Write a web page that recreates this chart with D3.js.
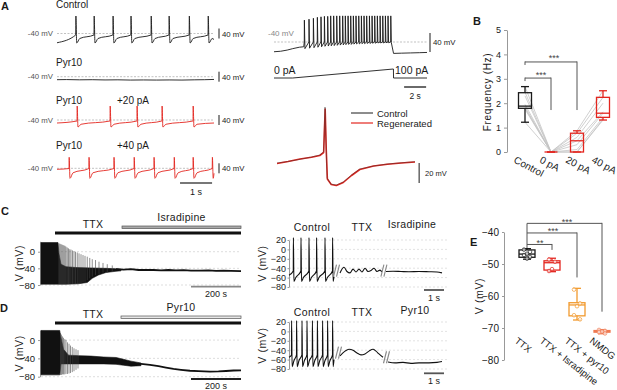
<!DOCTYPE html>
<html>
<head>
<meta charset="utf-8">
<script src="https://cdn.jsdelivr.net/npm/d3@7"></script>
<style>
  body { margin: 0; background: #fff; }
  svg { font-family: "Liberation Sans", Arial, sans-serif; }
</style>
</head>
<body>
<svg id="fig" width="617" height="390"></svg>
<script>
// ---------- data ----------
// A, left: spike times (s) and levels (mV): [start, threshold, peak, trough, recovery, end]
const ctrlSpikes = [0.59, 1.16, 1.75, 2.31, 2.94, 3.5, 4.13, 4.72];
const ctrlLevels = [-77, -46, 30, -78, -60, -64];
const pyrTrace = [[0, -52], [0.3, -51.5], [0.7, -52.5], [1.1, -52], [1.5, -53], [1.9, -52.5], [2.3, -53.5],
  [2.7, -53], [3.1, -53.5], [3.5, -53], [3.9, -53.5], [4.3, -52.5], [4.6, -52], [4.9, -51]];
const pa20Spikes = [0.63, 1.66, 2.5, 3.28, 4.25];
const pa20Levels = [-52, -44, 16, -68, -57, -52];
const pa40Spikes = [0.38, 1.0, 1.78, 2.41, 3.03, 3.66, 4.25, 4.85];
const pa40Levels = [-44, -41, 4, -80, -58, -60];

// A, right: current ramp
const rampPre = [[0, -60.5], [0.6, -59.5], [1.2, -57], [1.7, -54], [2.3, -51], [2.7, -50]];
const rampSpikes = [2.76, 3.18, 3.58, 3.94, 4.27, 4.58, 4.88, 5.15, 5.42, 5.7, 5.97, 6.24, 6.48, 6.73, 6.97,
  7.21, 7.45, 7.7, 7.94, 8.18, 8.42, 8.67, 8.91, 9.15, 9.39, 9.64, 9.88, 10.12, 10.36, 10.61];
const rampTroughs = [-54, -53, -52, -51, -50, -49, -48.5, -48, -47.5, -47, -46.5, -46, -45.5, -45, -45,
  -44.5, -44, -44, -43.5, -43.5, -43, -43, -42.5, -42.5, -42, -42, -42, -41.5, -41.5, -41.5];
const rampPeaks = [6, 8, 10, 12, 13, 14, 14, 15, 15, 15, 15, 15, 15, 15, 15, 15, 15, 15, 15, 15, 15, 15,
  15, 15, 15, 15, 15, 15, 15, 15];
const rampPost = [[10.86, -64], [11.6, -63.5], [12.4, -63], [13.2, -62.5], [13.9, -62]];
const rampCurrent = [[0, 0], [1.7, 0], [10.85, 100], [10.86, 0], [13.9, 0]];

// A, right: single action potential (ms, mV)
const apControl = [[0, -55], [8, -53.5], [16.7, -51.3], [25, -49], [31, -47], [33.8, -44], [34.8, 1],
  [35.6, -40], [36.3, -70], [39, -76], [43, -77], [48, -74], [54, -67], [60, -61], [70, -58], [80, -56],
  [90, -54.8], [100, -53.7]];
const apRegen = [[0, -55.5], [8, -53.5], [16.7, -51], [25, -49.3], [31, -47.5], [33.8, -44.5], [34.9, -1],
  [35.7, -42], [36.5, -71], [39.3, -76.5], [43, -77.5], [48, -74.5], [54, -67.5], [60, -61.5], [70, -58],
  [80, -56.3], [90, -55], [100, -54]];

// B: firing frequency (Hz)
const bCats = ['Control', '0 pA', '20 pA', '40 pA'];
const bBox = [[1.22, 1.79, 1.88, 2.43, 2.68], [0, 0, 0, 0, 0], [0, 0, 0.46, 0.77, 0.87], [1.31, 1.42, 1.59, 2.24, 2.51]];
const bCtrl = [2.68, 2.45, 2.3, 1.95, 1.85, 1.8, 1.75, 1.22];
const b0pA = [0, 0, 0, 0, 0, 0, 0, 0];
const b20pA = [0.87, 0.77, 0.6, 0.46, 0.3, 0.1, 0, 0];
const b40pA = [2.51, 2.24, 2.0, 1.65, 1.59, 1.42, 1.31, 1.35];
const bSig = [['Control', '0 pA', '***'], ['Control', '20 pA', '***']];

// C / D, left: long recordings (s, mV)
const cDrugs = [['TTX', 56, 800], ['Isradipine', 324, 800]];
const cUpper = [[0, 22], [68, 22], [72, -5], [80, -30], [100, -36], [140, -38], [200, -39], [260, -40],
  [300, -41], [320, -42]];
const cLower = [[0, -78], [100, -78], [150, -77], [185, -74], [205, -64], [230, -56], [260, -50], [300, -47],
  [320, -46]];
const cSpikeT = [72, 76, 80, 84, 88, 92, 96, 100, 105, 110, 115, 120, 126, 132, 138, 145, 152, 160, 168, 176,
  185, 195, 205, 218, 232, 248, 265, 285];
const cSpikeTop = [20, 19, 18, 17, 16, 15, 14, 12, 10, 8, 6, 5, 3, 1, 0, -2, -4, -6, -8, -10, -12, -15, -18,
  -20, -24, -27, -30, -33];
const cSpikeLow = [-78, -78, -78, -78, -78, -78, -78, -78, -78, -78, -78, -78, -78, -78, -78, -78, -77, -76,
  -74, -72, -68, -64, -60, -56, -53, -50, -50, -48];
const cTail = [[300, -42], [330, -43], [360, -42], [390, -44], [420, -43.5], [450, -44], [480, -45], [510, -44],
  [540, -45], [570, -44.5], [600, -45.5], [636, -45.5], [670, -45], [700, -46], [730, -45.5], [760, -46],
  [800, -46.5]];

const dDrugs = [['TTX', 56, 800], ['Pyr10', 320, 800]];
const dUpper = [[0, 21], [75, 21], [78, 10], [90, -20], [110, -33], [150, -34], [200, -35], [250, -37],
  [300, -38], [330, -42], [360, -46], [400, -50]];
const dLower = [[0, -76], [75, -76], [80, -52], [140, -52], [200, -52], [250, -52], [300, -53], [330, -55],
  [360, -57], [400, -56]];
const dSpikeT = [78, 82, 86, 90, 95, 100, 106, 112, 118, 125, 132, 140, 148];
const dSpikeTop = [15, 12, 8, 5, 2, 0, -5, -8, -12, -15, -18, -20, -22];
const dSpikeLow = [-76, -76, -75, -75, -75, -74, -74, -73, -72, -70, -68, -65, -62];
const dTail = [[400, -52], [436, -54], [470, -57], [500, -60], [530, -63], [560, -65], [596, -67], [630, -68],
  [676, -69], [710, -68.5], [740, -67.5], [770, -66.5], [800, -66]];

// C / D, right: excerpts (s, mV)
const cCtrlSpikes = [0.22, 0.6, 1.0, 1.38, 1.8, 2.18];
const cCtrlLevels = [-55, -46, 25, -68, -60, -58];
const cTTX = [[2.55, -50], [2.75, -38], [2.9, -47], [3.05, -50], [3.2, -42], [3.35, -48], [3.5, -42],
  [3.65, -48], [3.8, -40], [3.95, -47], [4.1, -45], [4.25, -40], [4.4, -47], [4.55, -44], [4.65, -48]];
const cIsr = [[4.85, -47], [5.2, -46.5], [5.6, -47], [6.0, -47.5], [6.5, -47], [7.0, -47.5], [7.4, -48],
  [7.65, -50]];
const dCtrlSpikes = [0.13, 0.38, 0.65, 0.9, 1.17, 1.42, 1.68, 1.93, 2.18];
const dCtrlLevels = [-55, -50, 23, -75, -62, -60];
const dTTX = [[2.55, -52], [2.8, -42], [3.0, -38], [3.2, -40], [3.4, -46], [3.6, -50], [3.8, -48],
  [4.0, -42], [4.2, -38], [4.35, -42], [4.5, -48], [4.7, -55]];
const dPyr = [[4.95, -65], [5.3, -67], [5.7, -66], [6.1, -68], [6.5, -67], [7.0, -67], [7.4, -66], [7.65, -64]];

// E: membrane potential (mV)
const eCats = ['TTX', 'TTX + Isradipine', 'TTX + pyr10', 'NMDG'];
const eBox = [[-48.5, -47.9, -46.9, -45.6, -45.2], [-52.4, -51.9, -49.6, -49, -48.2],
  [-67.5, -66.2, -62.8, -62.1, -57.6], [-71.8, -71.3, -71.1, -70.8, -70.5]];
const ePts = [[-45.5, -46.2, -46.8, -47.2, -47.8, -48.3], [-48.6, -49.3, -51.6, -52.2],
  [-58, -62.3, -63.2, -66, -67.3], [-70.6, -70.9, -71.1, -71.3, -71.7]];
const eSig = [['TTX', 'TTX + Isradipine', '**'], ['TTX', 'TTX + pyr10', '***'], ['TTX', 'NMDG', '***']];

// ---------- drawing ----------
const svg = d3.select('#fig');
const ink = '#1a1a1a', red = '#e3261f', orange = '#f29a2e', salmon = '#ef7a52';

function text(x, y, s, size, o = {}) {
  const t = svg.append('text').attr('x', x).attr('y', y).attr('font-size', size)
    .attr('fill', o.fill || ink).text(s);
  if (o.anchor) t.attr('text-anchor', o.anchor);
  if (o.bold) t.attr('font-weight', 'bold');
  if (o.ls) t.attr('letter-spacing', o.ls);
  if (o.rot) t.attr('transform', `rotate(${o.rot},${x},${y})`);
  return t;
}

function seg(x1, y1, x2, y2, stroke, w, dash) {
  const l = svg.append('line').attr('x1', x1).attr('y1', y1).attr('x2', x2).attr('y2', y2)
    .attr('stroke', stroke).attr('stroke-width', w);
  if (dash) l.attr('stroke-dasharray', dash);
  return l;
}

function trace(pts, xs, ys, color, w, curve) {
  return svg.append('path')
    .attr('d', d3.line().x(d => xs(d[0])).y(d => ys(d[1])).curve(curve || d3.curveMonotoneX)(pts))
    .attr('fill', 'none').attr('stroke', color).attr('stroke-width', w)
    .attr('stroke-linejoin', 'round');
}

function spikeTrain(times, lv, tEnd) {
  const pts = [[0, lv[0]]];
  times.forEach(t => {
    pts.push([t - 0.006, lv[1]], [t, lv[2]], [t + 0.025, lv[3]], [t + 0.12, lv[4]]);
  });
  pts.push([tEnd, lv[5]]);
  return pts.filter(p => p[0] <= tEnd);
}

function breakMark(x, y) {
  seg(x - 3.5, y + 6, x - 0.5, y - 6, '#888', 1.1);
  seg(x - 0.5, y + 6, x + 2.5, y - 6, '#888', 1.1);
}

// panel letters
text(1, 10, 'A', 11, {bold: true});
text(473, 25, 'B', 11, {bold: true});
text(1, 215, 'C', 11, {bold: true});
text(0, 312, 'D', 11, {bold: true});
text(470, 246, 'E', 11, {bold: true});

// ----- A left -----
const xA = d3.scaleLinear().domain([0, 4.9]).range([57, 214]);
const rowsA = [
  {dash: 33.5, title: 'Control', ty: 7.5, color: ink, pts: spikeTrain(ctrlSpikes, ctrlLevels, 4.9)},
  {dash: 76.7, title: 'Pyr10', ty: 65.5, color: ink, pts: pyrTrace},
  {dash: 120, title: 'Pyr10', extra: '+20 pA', ty: 104, color: red, pts: spikeTrain(pa20Spikes, pa20Levels, 4.9)},
  {dash: 168.3, title: 'Pyr10', extra: '+40 pA', ty: 149, color: red, pts: spikeTrain(pa40Spikes, pa40Levels, 4.9)}
];
rowsA.forEach(r => {
  const yA = d3.scaleLinear().domain([-40, 0]).range([r.dash, r.dash - 10]);
  seg(57, r.dash, 214, r.dash, '#999', 0.6, '2,1.5');
  text(53, r.dash + 2.5, '-40 mV', 7.8, {fill: '#555', anchor: 'end'});
  trace(r.pts, xA, yA, r.color, 0.9);
  seg(219, yA(-20), 219, yA(-60), ink, 1);
  text(222, r.dash + 3, '40 mV', 7.8);
  text(56, r.ty, r.title, 10);
  if (r.extra) text(117, r.ty, r.extra, 10);
});
seg(xA(3.84), 183, xA(4.84), 183, '#777', 2);
text(xA(4.34), 195, '1 s', 9, {anchor: 'middle'});

// ----- A right: ramp -----
const xR = d3.scaleLinear().domain([0, 13.9]).range([274, 427]);
const yR = d3.scaleLinear().domain([-40, 0]).range([42, 23]);
const iR = d3.scaleLinear().domain([0, 100]).range([78, 69]);
seg(274, yR(-40), 427, yR(-40), '#999', 0.6, '2,1.5');
text(268, 36, '-40 mV', 8, {fill: '#888'});
const rampPts = rampPre.slice();
rampSpikes.forEach((t, i) => {
  rampPts.push([t - 0.01, -40], [t, rampPeaks[i]], [t + 0.05, rampTroughs[i]]);
});
rampPts.push(...rampPost);
trace(rampPts, xR, yR, ink, 0.9, d3.curveLinear);
seg(430, yR(-40) - 9, 430, yR(-40) + 10, ink, 1);
text(433, 45, '40 mV', 7.8);
trace(rampCurrent, xR, iR, ink, 0.9, d3.curveLinear);
text(274, 74, '0 pA', 10.5);
text(395, 74, '100 pA', 10.5);
seg(xR(11.82), 87, xR(13.82), 87, ink, 1.3);
text(xR(12.82), 99, '2 s', 8.5, {anchor: 'middle'});

// ----- A right: action potential overlay -----
const xO = d3.scaleLinear().domain([0, 100]).range([277, 415]);
const yO = d3.scaleLinear().domain([-55, -35]).range([163, 143]);
trace(apRegen, xO, yO, red, 1.6, d3.curveLinear);
trace(apControl, xO, yO, '#333', 0.6, d3.curveLinear).attr('stroke-opacity', 0.75);
seg(xO(103), yO(-55), xO(103), yO(-75), ink, 1);
text(425, 176, '20 mV', 7.5);
seg(351, 113, 373, 113, ink, 1);
seg(351, 123, 373, 123, red, 1.2);
text(377, 116.5, 'Control', 9.5);
text(377, 126.5, 'Regenerated', 9.5);

// ----- B -----
const xB = d3.scalePoint().domain(bCats).range([525, 603]);
const yB = d3.scaleLinear().domain([0, 5]).range([152, 30]);
const gB = svg.append('g').attr('transform', 'translate(507,0)')
  .call(d3.axisLeft(yB).ticks(5).tickSize(3).tickSizeOuter(0));
gB.select('.domain').attr('stroke', '#999');
gB.selectAll('.tick line').attr('stroke', '#999');
gB.selectAll('.tick text').attr('font-size', 9).attr('fill', ink).attr('font-family', null);
text(491, 92, 'Frequency (Hz)', 10, {anchor: 'middle', rot: -90, ls: 0.7});

bCtrl.forEach((v, i) => {
  const vals = [v, b0pA[i], b20pA[i], b40pA[i]];
  trace(vals.map((u, k) => [bCats[k], u]), xB, yB, '#c4c4c4', 0.8, d3.curveLinear);
});

function boxes(xs, ys, cats, stats, colors, hw, cw, w) {
  cats.forEach((c, i) => {
    const [lo, q1, md, q3, hi] = stats[i];
    const x = xs(c), col = colors[i];
    seg(x, ys(lo), x, ys(q1), col, w);
    seg(x, ys(q3), x, ys(hi), col, w);
    seg(x - cw, ys(lo), x + cw, ys(lo), col, w);
    seg(x - cw, ys(hi), x + cw, ys(hi), col, w);
    svg.append('rect').attr('x', x - hw).attr('y', ys(q3)).attr('width', hw * 2)
      .attr('height', Math.max(0, ys(q1) - ys(q3))).attr('fill', 'none')
      .attr('stroke', col).attr('stroke-width', w);
    seg(x - hw, ys(md), x + hw, ys(md), col, w);
  });
}
boxes(xB, yB, bCats, bBox, [ink, red, red, red], 6.5, 4, 1.3);

const bLevels = [3.03, 3.69];
bSig.forEach((s, i) => {
  const x1 = xB(s[0]), x2 = xB(s[1]), yl = yB(bLevels[i]);
  seg(x1, yl, x2, yl, '#555', 1);
  seg(x1, yl - 0.5, x1, yl + 3, '#555', 1);
  seg(x2, yl - 0.5, x2, yB(1.72), '#555', 1);
  text((x1 + x2) / 2 + 3, yl - 0.5, s[2], 9, {anchor: 'middle', fill: '#444'});
});
bCats.forEach(c => {
  text(xB(c) - 12, 162, c, 10, {rot: 28});
});

// ----- C / D left -----
const xL = d3.scaleLinear().domain([0, 800]).range([41, 241]);

function longPanel(opt) {
  const yL = d3.scaleLinear().domain([-80, opt.top]).range([opt.y80, opt.yTop]);
  [0, -40, -80].forEach(v => seg(41, yL(v), 241, yL(v), '#c8c8c8', 0.6, '2,2'));
  const g = svg.append('g').attr('transform', 'translate(40,0)')
    .call(d3.axisLeft(yL).tickValues([0, -40, -80]).tickSize(2).tickSizeOuter(0));
  g.select('.domain').attr('stroke', '#999');
  g.selectAll('.tick line').attr('stroke', '#999');
  g.selectAll('.tick text').attr('font-size', 9.5).attr('fill', ink).attr('font-family', null);
  text(23, (yL(-80) + yL(opt.top)) / 2, 'V (mV)', 10.5, {anchor: 'middle', rot: -90, ls: 0.6});

  const poly = opt.upper.concat(opt.lower.slice().reverse());
  svg.append('path')
    .attr('d', d3.line().x(d => xL(d[0])).y(d => yL(d[1])).curve(d3.curveLinearClosed)(poly))
    .attr('fill', '#111').attr('stroke', '#111').attr('stroke-width', 0.6);
  opt.spikeT.forEach((t, i) => seg(xL(t), yL(opt.spikeTop[i]), xL(t), yL(opt.spikeLow[i]), '#444', 0.6));
  trace(opt.tail, xL, yL, '#111', 1.8, d3.curveLinear);

  // drug application bars
  const [tName, t0, t1] = opt.drugs[0];
  const [dName, d0, d1] = opt.drugs[1];
  svg.append('rect').attr('x', xL(t0)).attr('y', opt.barY).attr('width', xL(t1) - xL(t0)).attr('height', 3)
    .attr('fill', '#111');
  svg.append('rect').attr('x', xL(d0)).attr('y', opt.barY - 5.5).attr('width', xL(d1) - xL(d0)).attr('height', 2.6)
    .attr('fill', opt.drugFill).attr('stroke', '#555').attr('stroke-width', 0.7);
  text(93, opt.barY - 4, tName, 10.5, {anchor: 'middle', ls: 0.3});
  text((xL(d0) + xL(d1)) / 2, opt.barY - 10.5, dName, 10.5, {anchor: 'middle', ls: 0.3});

  seg(xL(600), opt.scaleY, xL(800), opt.scaleY, opt.scaleCol, 1.8);
  text(xL(700), opt.scaleY + 10, '200 s', 9, {anchor: 'middle'});
}

longPanel({top: 25, y80: 285, yTop: 241.3, upper: cUpper, lower: cLower, spikeT: cSpikeT,
  spikeTop: cSpikeTop, spikeLow: cSpikeLow, tail: cTail, drugs: cDrugs, barY: 231.5,
  drugFill: '#aaa', scaleY: 286.7, scaleCol: '#888'});
longPanel({top: 22, y80: 376.7, yTop: 330, upper: dUpper, lower: dLower, spikeT: dSpikeT,
  spikeTop: dSpikeTop, spikeLow: dSpikeLow, tail: dTail, drugs: dDrugs, barY: 321.5,
  drugFill: '#e6e6e6', scaleY: 379, scaleCol: '#222'});

// ----- C / D right -----
const xE2 = d3.scaleLinear().domain([0, 8]).range([289, 449]);

function excerptPanel(opt) {
  const yS = d3.scaleLinear().domain([-80, 20]).range([opt.y80, opt.y20]);
  [20, 0, -20, -40, -60, -80].forEach(v => seg(289, yS(v), 447, yS(v), '#cfcfcf', 0.6, '2,2'));
  const g = svg.append('g').attr('transform', 'translate(289,0)')
    .call(d3.axisLeft(yS).tickValues([20, 0, -20, -40, -60, -80]).tickSize(1.5).tickSizeOuter(0).tickPadding(1.5));
  g.select('.domain').attr('stroke', '#999');
  g.selectAll('.tick line').attr('stroke', '#999');
  g.selectAll('.tick text').attr('font-size', 9).attr('fill', ink).attr('font-family', null);
  text(266, (opt.y80 + opt.y20) / 2, 'V (mV)', 10.5, {anchor: 'middle', rot: -90, ls: 0.6});

  trace(spikeTrain(opt.spikes, opt.levels, 2.25), xE2, yS, '#111', 1.1);
  trace(opt.ttx, xE2, yS, '#111', 1.1);
  trace(opt.drug, xE2, yS, '#111', 1.1);
  breakMark(xE2(opt.breaks[0]), yS(opt.breakV[0]));
  breakMark(xE2(opt.breaks[1]), yS(opt.breakV[1]));

  text(312, opt.titleY, 'Control', 10.5, {anchor: 'middle', ls: 0.4});
  text(362, opt.titleY, 'TTX', 10.5, {anchor: 'middle', ls: 0.4});
  text(opt.drugX, opt.drugY, opt.drugName, 10.5, {anchor: 'middle', ls: 0.3});

  seg(xE2(6.75), opt.scaleY, xE2(7.75), opt.scaleY, '#555', 1.8);
  text(xE2(7.25), opt.scaleY + 11, '1 s', 9, {anchor: 'middle'});
}

excerptPanel({y80: 287, y20: 240, spikes: cCtrlSpikes, levels: cCtrlLevels, ttx: cTTX, drug: cIsr,
  breaks: [2.4, 4.77], breakV: [-45, -45], titleY: 230.5, drugName: 'Isradipine', drugX: 412, drugY: 228,
  scaleY: 290});
excerptPanel({y80: 369, y20: 322, spikes: dCtrlSpikes, levels: dCtrlLevels, ttx: dTTX, drug: dPyr,
  breaks: [2.5, 4.9], breakV: [-45, -55], titleY: 316, drugName: 'Pyr10', drugX: 415, drugY: 314,
  scaleY: 373.3});

// ----- E -----
const xEb = d3.scalePoint().domain(eCats).range([527, 602]);
const yEb = d3.scaleLinear().domain([-80, -40]).range([360, 232]);
const gE = svg.append('g').attr('transform', 'translate(504,0)')
  .call(d3.axisLeft(yEb).tickValues([-40, -50, -60, -70, -80]).tickSize(2).tickSizeOuter(0));
gE.select('.domain').attr('stroke', '#999');
gE.selectAll('.tick line').attr('stroke', '#999');
gE.selectAll('.tick text').attr('font-size', 10).attr('fill', ink).attr('font-family', null);
text(483, 296, 'V (mV)', 10.5, {anchor: 'middle', rot: -90, ls: 0.6});

const eColors = [ink, red, orange, salmon];
boxes(xEb, yEb, eCats, eBox, eColors, 8, 4, 1.3);
const jitter = [-3, 3, 0, -3, 3, 0];
eCats.forEach((c, i) => {
  ePts[i].forEach((v, k) => {
    svg.append('circle').attr('cx', xEb(c) + jitter[k]).attr('cy', yEb(v)).attr('r', 1.8)
      .attr('fill', '#fff').attr('stroke', eColors[i]).attr('stroke-width', 0.7).attr('fill-opacity', 0.6);
  });
});

const eLevels = [-43.9, -40.3, -37.3];
const eDrops = [-45.6, -54.2, -64.9];
const eStarX = [540, 553, 567];
seg(xEb('TTX'), yEb(-37.3), xEb('TTX'), yEb(-45), '#555', 1);
eSig.forEach((s, i) => {
  const x1 = xEb(s[0]), x2 = xEb(s[1]), yl = yEb(eLevels[i]);
  seg(x1, yl, x2, yl, '#555', 1);
  seg(x2, yl - 0.5, x2, yEb(eDrops[i]), '#555', 1);
  text(eStarX[i], yl + 1.5, s[2], 9, {anchor: 'middle', fill: '#444'});
});
eCats.forEach(c => {
  text(xEb(c) - 13, 342, c, 9.6, {rot: 38});
});
</script>
</body>
</html>
